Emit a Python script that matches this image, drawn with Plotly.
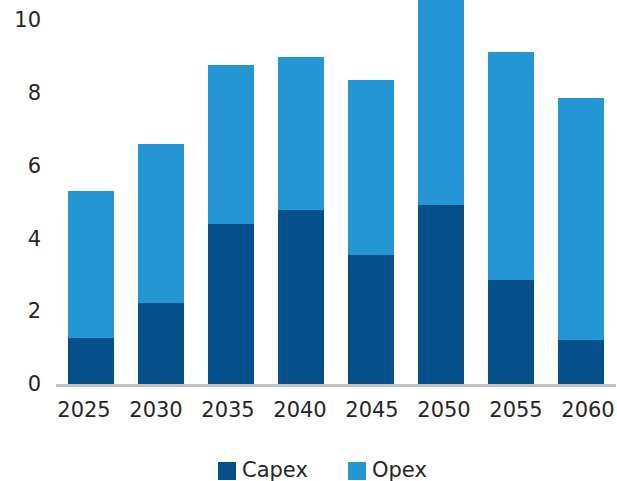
import plotly.graph_objects as go

# Annual cost by milestone year, US$ billion
years = ["2025", "2030", "2035", "2040", "2045", "2050", "2055", "2060"]
capex = [1.26, 2.23, 4.40, 4.78, 3.54, 4.92, 2.84, 1.21]
opex = [4.04, 4.36, 4.34, 4.18, 4.81, 6.10, 6.28, 6.65]

y_ticks = [0, 2, 4, 6, 8, 10]
series_names = ["Capex", "Opex"]

CAPEX_COLOR = "#05508A"
OPEX_COLOR = "#2596D4"
TEXT_COLOR = "#262626"
FONT = "DejaVu Sans"

# plot-area geometry in pixels (used to place the hand-drawn legend)
W, H = 617, 481
L, R, T, B = 56, 1, 0, 97
pw, ph = W - L - R, H - T - B


def px_x(x):
    return (x - L) / pw


def px_y(y):
    return (H - B - y) / ph


fig = go.Figure()
fig.add_trace(go.Bar(x=years, y=capex, name=series_names[0],
                     marker=dict(color=CAPEX_COLOR, line=dict(width=0))))
fig.add_trace(go.Bar(x=years, y=opex, name=series_names[1],
                     marker=dict(color=OPEX_COLOR, line=dict(width=0))))

# year labels are laid out on their own, slightly wider, label axis
label_pos = list(range(len(years)))
label_step = 72.0
label_first = 84.0

fig.update_layout(
    barmode="stack",
    bargap=0.343,
    width=W, height=H,
    margin=dict(l=L, r=R, t=T, b=B, pad=0),
    paper_bgcolor="white",
    plot_bgcolor="white",
    showlegend=False,
    font=dict(family=FONT, size=21, color=TEXT_COLOR),
    xaxis=dict(
        showgrid=False, zeroline=False, showline=True,
        linecolor="#C0C0C0", linewidth=3, ticks="",
        showticklabels=False,
    ),
    xaxis2=dict(
        overlaying="x", anchor="y", side="bottom", type="linear",
        range=[(L - label_first) / label_step, (L + pw - label_first) / label_step],
        tickvals=label_pos, ticktext=years,
        showgrid=False, zeroline=False, showline=False, ticks="",
        ticklabelstandoff=11,
        tickfont=dict(family=FONT, size=21, color=TEXT_COLOR),
    ),
    yaxis=dict(
        range=[0, 10.535], tickvals=y_ticks, showgrid=False,
        zeroline=False, showline=False, ticks="",
        ticklabelstandoff=14,
        tickfont=dict(family=FONT, size=21, color=TEXT_COLOR),
    ),
)

# invisible trace that carries the label axis
fig.add_trace(go.Scatter(x=label_pos, y=[0] * len(years), xaxis="x2",
                         mode="none", hoverinfo="skip", showlegend=False))

# legend keys and labels
legend_items = [(218, CAPEX_COLOR, series_names[0]), (348, OPEX_COLOR, series_names[1])]
for x0, color, label in legend_items:
    fig.add_shape(type="rect", xref="paper", yref="paper",
                  x0=px_x(x0), x1=px_x(x0 + 18), y0=px_y(462), y1=px_y(480),
                  fillcolor=color, line=dict(width=0))
    fig.add_annotation(xref="paper", yref="paper", x=px_x(x0 + 23), y=px_y(470),
                       xanchor="left", yanchor="middle", showarrow=False,
                       borderpad=0, text=label,
                       font=dict(family=FONT, size=21, color=TEXT_COLOR))

fig.write_html("out.html")
